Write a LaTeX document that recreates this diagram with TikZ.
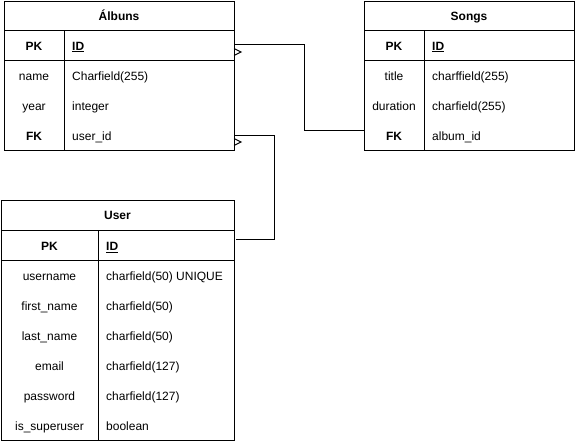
\documentclass[tikz,border=0pt]{standalone}
\usepackage{fontspec}
\setmainfont{Liberation Sans}
\begin{document}
\begin{tikzpicture}[x=1pt,y=-1pt,
  every node/.style={font=\fontsize{12}{14}\selectfont, inner sep=0pt, text height=8.6pt, text depth=0pt},
  tbl/.style={draw, line width=1pt, fill=white},
  hd/.style={font=\fontsize{12}{14}\selectfont\bfseries},
  key/.style={font=\fontsize{12}{14}\selectfont\bfseries},
  val/.style={anchor=west},
  ln/.style={line width=1pt},
  crow/.style={line width=1pt}
]
\useasboundingbox (0,0) rectangle (575,441);
% ---------- Albuns ----------
\node[tbl, minimum width=230pt, minimum height=149pt, anchor=north west] (alb) at (4,1) {};
\draw[ln] (4,31) -- (234,31);
\draw[ln] (4,61) -- (234,61);
\draw[ln] (64,31) -- (64,150);
\node[hd] (albT) at (119,16) {Álbuns};
\node[key] (albPK) at (34,46) {PK};
\node[key,val] (albID) at (72,46) {\underline{ID}};
\node (albN) at (34,76) {name};
\node[val] (albNv) at (72,76) {Charfield(255)};
\node (albY) at (34,106) {year};
\node[val] (albYv) at (72,106) {integer};
\node[key] (albFK) at (34,136) {FK};
\node[val] (albFKv) at (72,136) {user\_id};
% ---------- Songs ----------
\node[tbl, minimum width=210pt, minimum height=149pt, anchor=north west] (song) at (364,1) {};
\draw[ln] (364,31) -- (574,31);
\draw[ln] (364,61) -- (574,61);
\draw[ln] (424,31) -- (424,150);
\node[hd] (songT) at (469,16) {Songs};
\node[key] (songPK) at (394,46) {PK};
\node[key,val] (songID) at (432,46) {\underline{ID}};
\node (songTi) at (394,76) {title};
\node[val] (songTiv) at (432,76) {charffield(255)};
\node (songD) at (394,106) {duration};
\node[val] (songDv) at (432,106) {charfield(255)};
\node[key] (songFK) at (394,136) {FK};
\node[val] (songFKv) at (432,136) {album\_id};
% ---------- User ----------
\node[tbl, minimum width=233pt, minimum height=240pt, anchor=north west] (usr) at (1,200) {};
\draw[ln] (1,230) -- (234,230);
\draw[ln] (1,260) -- (234,260);
\draw[ln] (98,230) -- (98,440);
\node[hd] (usrT) at (117.5,215) {User};
\node[key] (usrPK) at (49.5,246) {PK};
\node[key,val] (usrID) at (106,246) {\underline{ID}};
\node (u1) at (49.5,276) {username};
\node[val] (u1v) at (106,276) {charfield(50) UNIQUE};
\node (u2) at (49.5,306) {first\_name};
\node[val] (u2v) at (106,306) {charfield(50)};
\node (u3) at (49.5,336) {last\_name};
\node[val] (u3v) at (106,336) {charfield(50)};
\node (u4) at (49.5,366) {email};
\node[val] (u4v) at (106,366) {charfield(127)};
\node (u5) at (49.5,396) {password};
\node[val] (u5v) at (106,396) {charfield(127)};
\node (u6) at (49.5,426) {is\_superuser};
\node[val] (u6v) at (106,426) {boolean};
% ---------- connectors ----------
\coordinate (a1) at (234,45);
\coordinate (s1) at (364,130);
\coordinate (a2) at (234,135);
\coordinate (u0) at (236,239);
\draw[ln] (a1) -- (304,45) |- (s1);
\draw[crow] ([yshift=-3.5]a1) -- ++(7,3.5) -- ++(-7,3.5);
\draw[ln] (a2) -- (274,135) |- (u0);
\draw[crow] ([yshift=-3.5]a2) -- ++(7,3.5) -- ++(-7,3.5);
\end{tikzpicture}
\end{document}
